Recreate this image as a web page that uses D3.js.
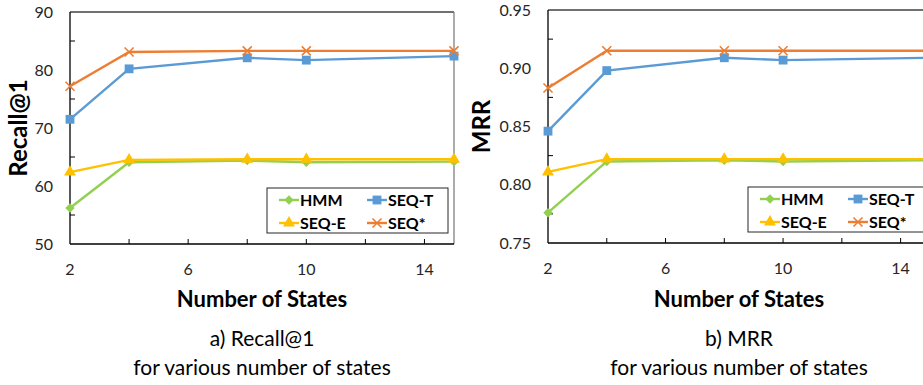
<!DOCTYPE html>
<html>
<head>
<title>Number of States</title>
<script src="https://d3js.org/d3.v7.min.js"></script>
<style>
body { margin: 0; background: #fff; }
text { font-family: Lato, "Open Sans", sans-serif; }
</style>
</head>
<body>
<div id="chart"></div>
<script>
var states = [2, 4, 8, 10, 15];
var seriesNames = ["HMM", "SEQ-T", "SEQ-E", "SEQ*"];
var seriesColors = ["#92d050", "#5b9bd5", "#ffc000", "#ed7d31"];
var seriesMarkers = ["diamond", "square", "triangle", "x"];

var recallHMM = [56.2, 64.1, 64.4, 64.1, 64.2];
var recallSEQT = [71.5, 80.2, 82.1, 81.7, 82.4];
var recallSEQE = [62.4, 64.5, 64.6, 64.6, 64.6];
var recallSEQStar = [77.2, 83.1, 83.3, 83.3, 83.3];

var mrrHMM = [0.776, 0.820, 0.821, 0.820, 0.821];
var mrrSEQT = [0.846, 0.898, 0.909, 0.907, 0.909];
var mrrSEQE = [0.811, 0.822, 0.822, 0.822, 0.822];
var mrrSEQStar = [0.883, 0.915, 0.915, 0.915, 0.915];

var xTicks = [2, 6, 10, 14];
var recallTicks = [50, 60, 70, 80, 90];
var mrrTicks = [0.75, 0.80, 0.85, 0.90, 0.95];

var svg = d3.select("#chart").append("svg")
  .attr("width", 923)
  .attr("height", 385);

function markerPath(type) {
  if (type == "diamond") return d3.symbol().type(d3.symbolSquare).size(44)();
  if (type == "square") return d3.symbol().type(d3.symbolSquare).size(78)();
  if (type == "triangle") return d3.symbol().type(d3.symbolTriangle).size(62)();
  return "M-4.5,-4.5L4.5,4.5M-4.5,4.5L4.5,-4.5";
}

function drawMarker(g, type, color, x, y) {
  var p = g.append("path")
    .attr("d", markerPath(type))
    .attr("transform", "translate(" + x + "," + y + ")" + (type == "diamond" ? " rotate(45)" : ""));
  if (type == "x") p.attr("fill", "none").attr("stroke", color).attr("stroke-width", 1.6);
  else p.attr("fill", color);
}

function drawPanel(opt) {
  var x = d3.scaleLinear().domain([2, 15]).range([opt.left, opt.right]);
  var y = d3.scaleLinear().domain(opt.yDomain).range([opt.bottom, opt.top]);
  var g = svg.append("g");

  // frame top / right
  g.append("line").attr("x1", opt.left).attr("x2", opt.right).attr("y1", opt.top).attr("y2", opt.top)
    .attr("stroke", "#404040").attr("stroke-width", 1.3);
  g.append("line").attr("x1", opt.right).attr("x2", opt.right).attr("y1", opt.top).attr("y2", opt.bottom)
    .attr("stroke", "#808080").attr("stroke-width", 1.3);

  // minor ticks inside
  var yMinor = opt.ticks.slice(0, -1).map(function(d, i) { return (d + opt.ticks[i + 1]) / 2; });
  g.selectAll(".ym").data(yMinor).enter().append("line")
    .attr("x1", opt.left).attr("x2", opt.left + 5)
    .attr("y1", function(d) { return y(d); }).attr("y2", function(d) { return y(d); })
    .attr("stroke", "#000").attr("stroke-width", 1);
  g.selectAll(".xm").data(d3.range(4, 15, 2)).enter().append("line")
    .attr("x1", function(d) { return x(d); }).attr("x2", function(d) { return x(d); })
    .attr("y1", opt.bottom).attr("y2", opt.bottom - 5)
    .attr("stroke", "#000").attr("stroke-width", 1);

  // axis lines
  g.append("line").attr("x1", opt.left).attr("x2", opt.left).attr("y1", opt.top).attr("y2", opt.bottom)
    .attr("stroke", "#000").attr("stroke-width", 1.3);
  g.append("line").attr("x1", opt.left).attr("x2", opt.right).attr("y1", opt.bottom).attr("y2", opt.bottom)
    .attr("stroke", "#000").attr("stroke-width", 1.3);

  // tick labels
  g.selectAll(".yl").data(opt.ticks).enter().append("text")
    .attr("x", opt.left - 17).attr("y", function(d) { return y(d); })
    .attr("dy", "0.35em").attr("text-anchor", "end")
    .attr("font-size", 16).attr("fill", "#262626")
    .text(opt.fmt);
  g.selectAll(".xl").data(xTicks).enter().append("text")
    .attr("x", function(d) { return x(d); }).attr("y", opt.bottom + 25)
    .attr("dy", "0.35em").attr("text-anchor", "middle")
    .attr("font-size", 16).attr("fill", "#262626")
    .text(function(d) { return d; });

  // axis titles
  g.append("text")
    .attr("transform", "translate(" + opt.titleX + "," + (opt.top + opt.bottom) / 2 + ") rotate(-90)")
    .attr("text-anchor", "middle").attr("dy", "0.35em")
    .attr("font-size", 24).attr("font-weight", "bold").attr("fill", "#000")
    .text(opt.yTitle);
  var cx = (opt.left + opt.right) / 2;
  g.append("text").attr("x", cx).attr("y", 299).attr("dy", "0.35em")
    .attr("text-anchor", "middle").attr("font-size", 22).attr("font-weight", "bold")
    .text("Number of States");
  g.append("text").attr("x", cx).attr("y", 339).attr("dy", "0.35em")
    .attr("text-anchor", "middle").attr("font-size", 21)
    .text(opt.caption);
  g.append("text").attr("x", cx).attr("y", 368).attr("dy", "0.35em")
    .attr("text-anchor", "middle").attr("font-size", 21)
    .text("for various number of states");

  // series
  var line = d3.line().x(function(d) { return x(d[0]); }).y(function(d) { return y(d[1]); });
  opt.series.forEach(function(vals, i) {
    var pts = states.map(function(s, j) { return [s, vals[j]]; });
    g.append("path").datum(pts).attr("d", line)
      .attr("fill", "none").attr("stroke", seriesColors[i]).attr("stroke-width", 2.4);
    pts.forEach(function(p) { drawMarker(g, seriesMarkers[i], seriesColors[i], x(p[0]), y(p[1])); });
  });

  // legend
  var lg = g.append("g").attr("transform", "translate(" + opt.legendX + "," + opt.legendY + ")");
  lg.append("rect").attr("width", 181).attr("height", 45)
    .attr("fill", "#fff").attr("stroke", "#262626").attr("stroke-width", 1);
  seriesNames.forEach(function(name, i) {
    var col = i % 2, row = Math.floor(i / 2);
    var lx = col == 0 ? 12 : 100;
    var ly = row == 0 ? 12 : 35;
    lg.append("line").attr("x1", lx).attr("x2", lx + 20).attr("y1", ly).attr("y2", ly)
      .attr("stroke", seriesColors[i]).attr("stroke-width", 2.4);
    drawMarker(lg, seriesMarkers[i], seriesColors[i], lx + 10, ly);
    lg.append("text").attr("x", lx + 21).attr("y", ly).attr("dy", "0.35em")
      .attr("font-size", 16).attr("font-weight", "bold").attr("fill", "#000")
      .text(name);
  });
}

drawPanel({
  left: 70, right: 454, top: 12, bottom: 244,
  yDomain: [50, 90], ticks: recallTicks,
  fmt: function(d) { return d; },
  yTitle: "Recall@1", titleX: 19, caption: "a) Recall@1",
  series: [recallHMM, recallSEQT, recallSEQE, recallSEQStar],
  legendX: 267, legendY: 188
});

drawPanel({
  left: 548, right: 930, top: 10, bottom: 243,
  yDomain: [0.75, 0.95], ticks: mrrTicks,
  fmt: d3.format(".2f"),
  yTitle: "MRR", titleX: 482, caption: "b) MRR",
  series: [mrrHMM, mrrSEQT, mrrSEQE, mrrSEQStar],
  legendX: 748, legendY: 187
});
</script>
</body>
</html>
